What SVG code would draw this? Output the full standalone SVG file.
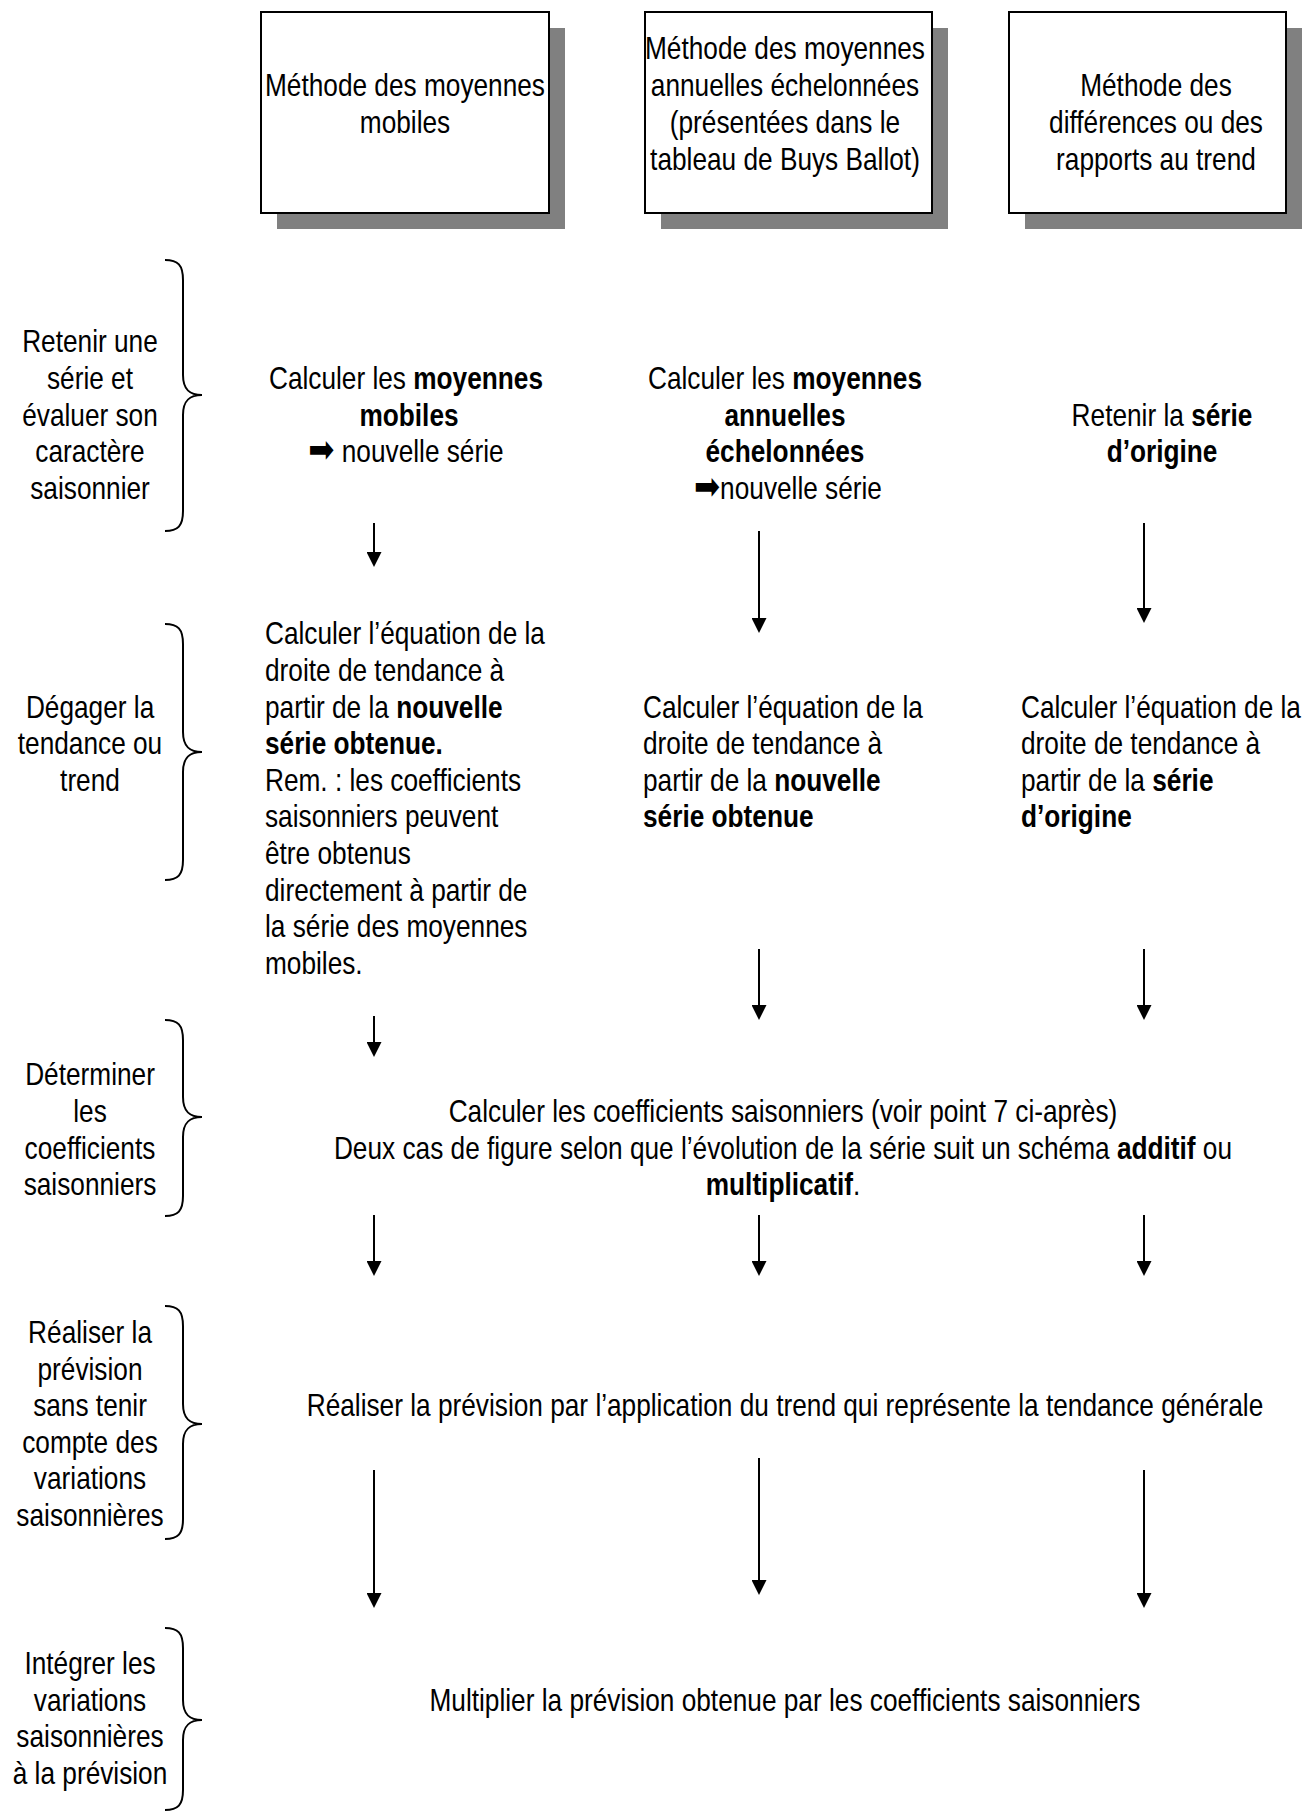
<svg xmlns="http://www.w3.org/2000/svg" width="1303" height="1811" viewBox="0 0 1303 1811">
<defs>
<style>
text { font-family: "Liberation Sans", Arial, sans-serif; font-size: 32px; fill: #000; transform-box: fill-box; transform-origin: 50% 50%; transform: scaleX(0.82); }
text.l { transform-origin: 0% 50%; }
.c { text-anchor: middle; }
.b { font-weight: bold; }
.box { fill: #fff; stroke: #000; stroke-width: 2; }
.shadow { fill: #808080; }
.brace { fill: none; stroke: #000; stroke-width: 2; }
#connectors line { stroke: #000; stroke-width: 2; marker-end: url(#ah); }
.sym { font-family: "DejaVu Sans", sans-serif; font-size: 38px; }
</style>
<marker id="ah" markerUnits="userSpaceOnUse" markerWidth="15" markerHeight="15" viewBox="0 0 15 15" refX="13" refY="7.5" orient="auto">
<path d="M0,0 L15,7.5 L0,15 z" fill="#000"/>
</marker>
</defs>
<rect width="1303" height="1811" fill="#fff"/>

<g id="box-mobiles">
<rect class="shadow" x="277" y="28" width="288" height="201"/>
<rect class="box" x="261" y="12" width="288" height="201"/>
<text class="c" x="405" y="96">Méthode des moyennes</text>
<text class="c" x="405" y="133">mobiles</text>
</g>
<g id="box-annuelles">
<rect class="shadow" x="661" y="28" width="287" height="201"/>
<rect class="box" x="645" y="12" width="287" height="201"/>
<text class="c" x="785" y="59">Méthode des moyennes</text>
<text class="c" x="785" y="96">annuelles échelonnées</text>
<text class="c" x="785" y="133">(présentées dans le</text>
<text class="c" x="785" y="170">tableau de Buys Ballot)</text>
</g>
<g id="box-differences">
<rect class="shadow" x="1025" y="28" width="277" height="201"/>
<rect class="box" x="1009" y="12" width="277" height="201"/>
<text class="c" x="1156" y="96">Méthode des</text>
<text class="c" x="1156" y="133">différences ou des</text>
<text class="c" x="1156" y="170">rapports au trend</text>
</g>

<g id="step1-label">
<path class="brace" d="M165,260 C178,260 183,265 183,280 L183,375 C183,390 190,395 202,395 C190,395 183,400 183,415 L183,511 C183,526 178,531 165,531"/>
<text class="c" x="90" y="352.4">Retenir une</text>
<text class="c" x="90" y="389">série et</text>
<text class="c" x="90" y="425.6">évaluer son</text>
<text class="c" x="90" y="462.2">caractère</text>
<text class="c" x="90" y="498.8">saisonnier</text>
</g>
<g id="step2-label">
<path class="brace" d="M165,624 C178,624 183,629 183,644 L183,732 C183,747 190,752 202,752 C190,752 183,757 183,772 L183,860 C183,875 178,880 165,880"/>
<text class="c" x="90" y="717.7">Dégager la</text>
<text class="c" x="90" y="754.3">tendance ou</text>
<text class="c" x="90" y="790.9">trend</text>
</g>
<g id="step3-label">
<path class="brace" d="M165,1020 C178,1020 183,1025 183,1040 L183,1097 C183,1112 190,1117 202,1117 C190,1117 183,1122 183,1137 L183,1196 C183,1211 178,1216 165,1216"/>
<text class="c" x="90" y="1085.5">Déterminer</text>
<text class="c" x="90" y="1122.1">les</text>
<text class="c" x="90" y="1158.7">coefficients</text>
<text class="c" x="90" y="1195.3">saisonniers</text>
</g>
<g id="step4-label">
<path class="brace" d="M165,1306 C178,1306 183,1311 183,1326 L183,1404 C183,1419 190,1424 202,1424 C190,1424 183,1429 183,1444 L183,1519 C183,1534 178,1539 165,1539"/>
<text class="c" x="90" y="1343">Réaliser la</text>
<text class="c" x="90" y="1379.6">prévision</text>
<text class="c" x="90" y="1416.2">sans tenir</text>
<text class="c" x="90" y="1452.8">compte des</text>
<text class="c" x="90" y="1489.4">variations</text>
<text class="c" x="90" y="1526">saisonnières</text>
</g>
<g id="step5-label">
<path class="brace" d="M165,1628 C178,1628 183,1633 183,1648 L183,1700 C183,1715 190,1720 202,1720 C190,1720 183,1725 183,1740 L183,1790 C183,1805 178,1810 165,1810"/>
<text class="c" x="90" y="1674">Intégrer les</text>
<text class="c" x="90" y="1710.6">variations</text>
<text class="c" x="90" y="1747.2">saisonnières</text>
<text class="c" x="90" y="1783.8">à la prévision</text>
</g>

<g id="c1-s1">
<text class="c" x="406" y="389">Calculer les <tspan class="b">moyennes</tspan></text>
<text class="c b" x="409" y="425.6">mobiles</text>
<text class="c" x="406" y="462.2"><tspan class="sym">➡</tspan> nouvelle série</text>
</g>
<g id="c2-s1">
<text class="c" x="785" y="389">Calculer les <tspan class="b">moyennes</tspan></text>
<text class="c b" x="785" y="425.6">annuelles</text>
<text class="c b" x="785" y="462.2">échelonnées</text>
<text class="c" x="788" y="498.8"><tspan class="sym">➡</tspan>nouvelle série</text>
</g>
<g id="c3-s1">
<text class="c" x="1162" y="425.6">Retenir la <tspan class="b">série</tspan></text>
<text class="c b" x="1162" y="462.2">d’origine</text>
</g>

<g id="c1-s2">
<text class="l" x="265" y="644.5">Calculer l’équation de la</text>
<text class="l" x="265" y="681.1">droite de tendance à</text>
<text class="l" x="265" y="717.7">partir de la <tspan class="b">nouvelle</tspan></text>
<text class="l b" x="265" y="754.3">série obtenue.</text>
<text class="l" x="265" y="790.9">Rem. : les coefficients</text>
<text class="l" x="265" y="827.5">saisonniers peuvent</text>
<text class="l" x="265" y="864.1">être obtenus</text>
<text class="l" x="265" y="900.7">directement à partir de</text>
<text class="l" x="265" y="937.3">la série des moyennes</text>
<text class="l" x="265" y="973.9">mobiles.</text>
</g>
<g id="c2-s2">
<text class="l" x="643" y="717.7">Calculer l’équation de la</text>
<text class="l" x="643" y="754.3">droite de tendance à</text>
<text class="l" x="643" y="790.9">partir de la <tspan class="b">nouvelle</tspan></text>
<text class="l b" x="643" y="827.5">série obtenue</text>
</g>
<g id="c3-s2">
<text class="l" x="1021" y="717.7">Calculer l’équation de la</text>
<text class="l" x="1021" y="754.3">droite de tendance à</text>
<text class="l" x="1021" y="790.9">partir de la <tspan class="b">série</tspan></text>
<text class="l b" x="1021" y="827.5">d’origine</text>
</g>

<g id="s3">
<text class="c" x="783" y="1122.1">Calculer les coefficients saisonniers (voir point 7 ci-après)</text>
<text class="c" x="783" y="1158.7">Deux cas de figure selon que l’évolution de la série suit un schéma <tspan class="b">additif</tspan> ou</text>
<text class="c" x="783" y="1195.3"><tspan class="b">multiplicatif</tspan>.</text>
</g>
<g id="s4">
<text class="c" x="785" y="1416.2">Réaliser la prévision par l’application du trend qui représente la tendance générale</text>
</g>
<g id="s5">
<text class="c" x="785" y="1710.6">Multiplier la prévision obtenue par les coefficients saisonniers</text>
</g>

<g id="connectors">
<line x1="374" y1="523" x2="374" y2="565"/>
<line x1="374" y1="1016" x2="374" y2="1055"/>
<line x1="374" y1="1215" x2="374" y2="1274"/>
<line x1="374" y1="1470" x2="374" y2="1606"/>
<line x1="759" y1="531" x2="759" y2="631"/>
<line x1="759" y1="949" x2="759" y2="1018"/>
<line x1="759" y1="1215" x2="759" y2="1274"/>
<line x1="759" y1="1458" x2="759" y2="1593"/>
<line x1="1144" y1="523" x2="1144" y2="621"/>
<line x1="1144" y1="949" x2="1144" y2="1018"/>
<line x1="1144" y1="1215" x2="1144" y2="1274"/>
<line x1="1144" y1="1470" x2="1144" y2="1606"/>
</g>
</svg>
